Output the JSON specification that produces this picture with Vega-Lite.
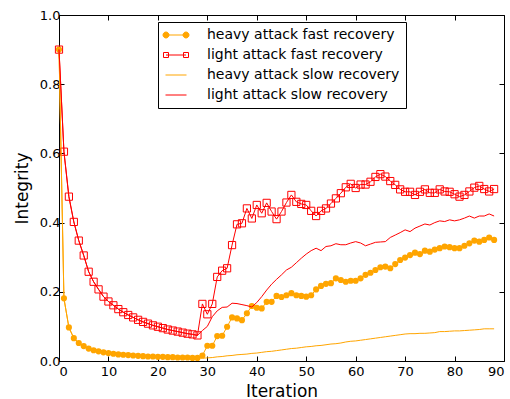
{
"$schema": "https://vega.github.io/schema/vega-lite/v6.json",
"width": 445, "height": 346,
"autosize": {"type": "none"},
"padding": {"left": 59, "top": 15, "right": 6, "bottom": 38},
"background": "white",
"config": {
  "view": {"stroke": "black", "strokeWidth": 1},
  "font": "DejaVu Sans",
  "axis": {"grid": false, "domain": false, "tickColor": "black", "tickSize": -5, "tickWidth": 1, "labelColor": "black", "labelFont": "DejaVu Sans", "labelFontSize": 13, "titleFont": "DejaVu Sans", "titleFontSize": 17, "titleFontWeight": "normal", "titleColor": "black"}
},
"data": {"values": [
{"i":0,"hf":0.9,"lf":0.9,"hs":0.9,"ls":0.9},
{"i":1,"hf":0.181,"lf":0.605,"hs":0.181,"ls":0.605},
{"i":2,"hf":0.097,"lf":0.475,"hs":0.097,"ls":0.475},
{"i":3,"hf":0.066,"lf":0.402,"hs":0.066,"ls":0.402},
{"i":4,"hf":0.052,"lf":0.348,"hs":0.052,"ls":0.348},
{"i":5,"hf":0.043,"lf":0.305,"hs":0.043,"ls":0.305},
{"i":6,"hf":0.036,"lf":0.258,"hs":0.036,"ls":0.258},
{"i":7,"hf":0.031,"lf":0.229,"hs":0.031,"ls":0.229},
{"i":8,"hf":0.028,"lf":0.207,"hs":0.028,"ls":0.207},
{"i":9,"hf":0.025,"lf":0.186,"hs":0.025,"ls":0.186},
{"i":10,"hf":0.023,"lf":0.172,"hs":0.023,"ls":0.172},
{"i":11,"hf":0.021,"lf":0.161,"hs":0.021,"ls":0.161},
{"i":12,"hf":0.019,"lf":0.15,"hs":0.019,"ls":0.15},
{"i":13,"hf":0.018,"lf":0.141,"hs":0.018,"ls":0.141},
{"i":14,"hf":0.017,"lf":0.133,"hs":0.017,"ls":0.133},
{"i":15,"hf":0.016,"lf":0.126,"hs":0.016,"ls":0.126},
{"i":16,"hf":0.015,"lf":0.119,"hs":0.015,"ls":0.119},
{"i":17,"hf":0.014,"lf":0.113,"hs":0.014,"ls":0.113},
{"i":18,"hf":0.013,"lf":0.108,"hs":0.013,"ls":0.108},
{"i":19,"hf":0.013,"lf":0.103,"hs":0.013,"ls":0.103},
{"i":20,"hf":0.012,"lf":0.099,"hs":0.012,"ls":0.099},
{"i":21,"hf":0.012,"lf":0.095,"hs":0.012,"ls":0.095},
{"i":22,"hf":0.011,"lf":0.091,"hs":0.011,"ls":0.091},
{"i":23,"hf":0.011,"lf":0.088,"hs":0.011,"ls":0.088},
{"i":24,"hf":0.01,"lf":0.085,"hs":0.01,"ls":0.085},
{"i":25,"hf":0.01,"lf":0.082,"hs":0.01,"ls":0.082},
{"i":26,"hf":0.01,"lf":0.079,"hs":0.01,"ls":0.079},
{"i":27,"hf":0.009,"lf":0.077,"hs":0.009,"ls":0.077},
{"i":28,"hf":0.009,"lf":0.074,"hs":0.009,"ls":0.074},
{"i":29,"hf":0.016,"lf":0.165,"hs":0.008,"ls":0.088},
{"i":30,"hf":0.044,"lf":0.135,"hs":0.009,"ls":0.1},
{"i":31,"hf":0.044,"lf":0.165,"hs":0.01,"ls":0.128},
{"i":32,"hf":0.072,"lf":0.243,"hs":0.012,"ls":0.145},
{"i":33,"hf":0.073,"lf":0.261,"hs":0.013,"ls":0.155},
{"i":34,"hf":0.099,"lf":0.268,"hs":0.015,"ls":0.156},
{"i":35,"hf":0.126,"lf":0.335,"hs":0.016,"ls":0.167},
{"i":36,"hf":0.123,"lf":0.395,"hs":0.018,"ls":0.166},
{"i":37,"hf":0.118,"lf":0.398,"hs":0.019,"ls":0.163},
{"i":38,"hf":0.138,"lf":0.441,"hs":0.02,"ls":0.16},
{"i":39,"hf":0.159,"lf":0.412,"hs":0.022,"ls":0.156},
{"i":40,"hf":0.154,"lf":0.451,"hs":0.023,"ls":0.169},
{"i":41,"hf":0.152,"lf":0.427,"hs":0.025,"ls":0.186},
{"i":42,"hf":0.171,"lf":0.457,"hs":0.027,"ls":0.205},
{"i":43,"hf":0.171,"lf":0.432,"hs":0.028,"ls":0.222},
{"i":44,"hf":0.188,"lf":0.41,"hs":0.03,"ls":0.236},
{"i":45,"hf":0.185,"lf":0.432,"hs":0.032,"ls":0.249},
{"i":46,"hf":0.19,"lf":0.458,"hs":0.034,"ls":0.263},
{"i":47,"hf":0.196,"lf":0.48,"hs":0.036,"ls":0.271},
{"i":48,"hf":0.19,"lf":0.46,"hs":0.037,"ls":0.284},
{"i":49,"hf":0.188,"lf":0.454,"hs":0.039,"ls":0.297},
{"i":50,"hf":0.186,"lf":0.451,"hs":0.041,"ls":0.309},
{"i":51,"hf":0.19,"lf":0.434,"hs":0.042,"ls":0.319},
{"i":52,"hf":0.207,"lf":0.419,"hs":0.044,"ls":0.326},
{"i":53,"hf":0.217,"lf":0.434,"hs":0.045,"ls":0.319},
{"i":54,"hf":0.223,"lf":0.441,"hs":0.047,"ls":0.331},
{"i":55,"hf":0.225,"lf":0.455,"hs":0.049,"ls":0.333},
{"i":56,"hf":0.239,"lf":0.47,"hs":0.05,"ls":0.339},
{"i":57,"hf":0.234,"lf":0.485,"hs":0.052,"ls":0.336},
{"i":58,"hf":0.229,"lf":0.502,"hs":0.055,"ls":0.336},
{"i":59,"hf":0.232,"lf":0.512,"hs":0.057,"ls":0.341},
{"i":60,"hf":0.232,"lf":0.5,"hs":0.058,"ls":0.345},
{"i":61,"hf":0.239,"lf":0.51,"hs":0.06,"ls":0.341},
{"i":62,"hf":0.249,"lf":0.51,"hs":0.062,"ls":0.333},
{"i":63,"hf":0.255,"lf":0.518,"hs":0.064,"ls":0.338},
{"i":64,"hf":0.263,"lf":0.532,"hs":0.066,"ls":0.343},
{"i":65,"hf":0.271,"lf":0.54,"hs":0.068,"ls":0.344},
{"i":66,"hf":0.273,"lf":0.533,"hs":0.07,"ls":0.345},
{"i":67,"hf":0.268,"lf":0.52,"hs":0.072,"ls":0.357},
{"i":68,"hf":0.28,"lf":0.509,"hs":0.074,"ls":0.364},
{"i":69,"hf":0.292,"lf":0.496,"hs":0.076,"ls":0.371},
{"i":70,"hf":0.299,"lf":0.489,"hs":0.078,"ls":0.379},
{"i":71,"hf":0.306,"lf":0.489,"hs":0.079,"ls":0.374},
{"i":72,"hf":0.313,"lf":0.48,"hs":0.079,"ls":0.384},
{"i":73,"hf":0.309,"lf":0.489,"hs":0.08,"ls":0.39},
{"i":74,"hf":0.319,"lf":0.496,"hs":0.08,"ls":0.396},
{"i":75,"hf":0.316,"lf":0.486,"hs":0.081,"ls":0.393},
{"i":76,"hf":0.322,"lf":0.486,"hs":0.082,"ls":0.4},
{"i":77,"hf":0.326,"lf":0.496,"hs":0.085,"ls":0.405},
{"i":78,"hf":0.331,"lf":0.49,"hs":0.085,"ls":0.403},
{"i":79,"hf":0.329,"lf":0.489,"hs":0.086,"ls":0.408},
{"i":80,"hf":0.326,"lf":0.482,"hs":0.087,"ls":0.405},
{"i":81,"hf":0.326,"lf":0.475,"hs":0.087,"ls":0.408},
{"i":82,"hf":0.333,"lf":0.48,"hs":0.088,"ls":0.413},
{"i":83,"hf":0.34,"lf":0.49,"hs":0.089,"ls":0.419},
{"i":84,"hf":0.348,"lf":0.501,"hs":0.09,"ls":0.413},
{"i":85,"hf":0.345,"lf":0.506,"hs":0.091,"ls":0.419},
{"i":86,"hf":0.35,"lf":0.497,"hs":0.093,"ls":0.419},
{"i":87,"hf":0.357,"lf":0.49,"hs":0.093,"ls":0.425},
{"i":88,"hf":0.35,"lf":0.497,"hs":0.093,"ls":0.419}
]},
"transform": [{"fold": ["hf", "lf", "hs", "ls"], "as": ["series", "value"]}],
"encoding": {
  "x": {"field": "i", "type": "quantitative", "scale": {"domain": [0, 90], "nice": false, "zero": false}, "axis": null},
  "y": {"field": "value", "type": "quantitative", "scale": {"domain": [0, 1], "nice": false}, "axis": null},
  "color": {"field": "series", "type": "nominal",
    "scale": {"domain": ["hf", "lf", "hs", "ls"], "range": ["#FFA500", "#FF0000", "#FFA500", "#FF0000"]},
    "legend": {"orient": "none", "legendX": 99, "legendY": 7, "title": null, "padding": 6, "rowPadding": 6,
      "labelFontSize": 14, "labelFont": "DejaVu Sans", "labelColor": "black", "labelOffset": 24, "labelLimit": 400,
      "symbolSize": 100, "symbolOffset": 5, "symbolStrokeWidth": 1, "strokeColor": "black", "fillColor": "white", "cornerRadius": 0,
      "labelExpr": "datum.label == 'hf' ? 'heavy attack fast recovery' : datum.label == 'lf' ? 'light attack fast recovery' : datum.label == 'hs' ? 'heavy attack slow recovery' : 'light attack slow recovery'",
      "encode": {"symbols": {"update": {
        "shape": {"signal": "datum.value == 'hf' ? 'M-2,0L2,0M-1.4,0A0.6,0.6,0,1,1,-2.6,0A0.6,0.6,0,1,1,-1.4,0ZM2.6,0A0.6,0.6,0,1,1,1.4,0A0.6,0.6,0,1,1,2.6,0Z' : datum.value == 'lf' ? 'M-2,0L2,0M-2.5,-0.5H-1.5V0.5H-2.5ZM1.5,-0.5H2.5V0.5H1.5Z' : 'M-2.1,0L2.1,0'"},
        "fill": {"signal": "datum.value == 'hf' ? '#FFA500' : 'transparent'"},
        "fillOpacity": {"signal": "datum.value == 'hf' ? 1 : 0"},
        "stroke": {"signal": "datum.value == 'hf' || datum.value == 'hs' ? '#FFA500' : '#FF0000'"}
      }}}
    }
  }
},
"layer": [
  {"transform": [{"filter": "datum.series == 'hf'"}], "mark": {"type": "line", "strokeWidth": 1},
   "encoding": {
     "x": {"field": "i", "type": "quantitative", "scale": {"domain": [0, 90], "nice": false, "zero": false},
       "axis": {"orient": "bottom", "values": [0,10,20,30,40,50,60,70,80,90], "title": "Iteration", "labelPadding": 9, "titlePadding": 5}},
     "y": {"field": "value", "type": "quantitative", "scale": {"domain": [0, 1], "nice": false},
       "axis": {"orient": "left", "values": [0,0.2,0.4,0.6,0.8,1.0], "format": ".1f", "title": "Integrity", "labelPadding": 4, "titlePadding": 8}}
   }},
  {"transform": [{"filter": "datum.series == 'hf'"}], "mark": {"type": "point", "shape": "circle", "filled": true, "size": 38, "opacity": 1, "strokeWidth": 0}},
  {"transform": [{"filter": "datum.series == 'lf'"}], "mark": {"type": "line", "strokeWidth": 1}},
  {"transform": [{"filter": "datum.series == 'lf'"}], "mark": {"type": "point", "shape": "square", "filled": false, "size": 52, "opacity": 1, "strokeWidth": 1}},
  {"transform": [{"filter": "datum.series == 'hs'"}], "mark": {"type": "line", "strokeWidth": 1}},
  {"transform": [{"filter": "datum.series == 'ls'"}], "mark": {"type": "line", "strokeWidth": 1},
   "encoding": {
     "x": {"field": "i", "type": "quantitative", "scale": {"domain": [0, 90], "nice": false, "zero": false},
       "axis": {"orient": "top", "values": [0,10,20,30,40,50,60,70,80,90], "labels": false, "title": null}},
     "y": {"field": "value", "type": "quantitative", "scale": {"domain": [0, 1], "nice": false},
       "axis": {"orient": "right", "values": [0,0.2,0.4,0.6,0.8,1.0], "labels": false, "title": null}}
   }}
],
"resolve": {"axis": {"x": "independent", "y": "independent"}}
}
